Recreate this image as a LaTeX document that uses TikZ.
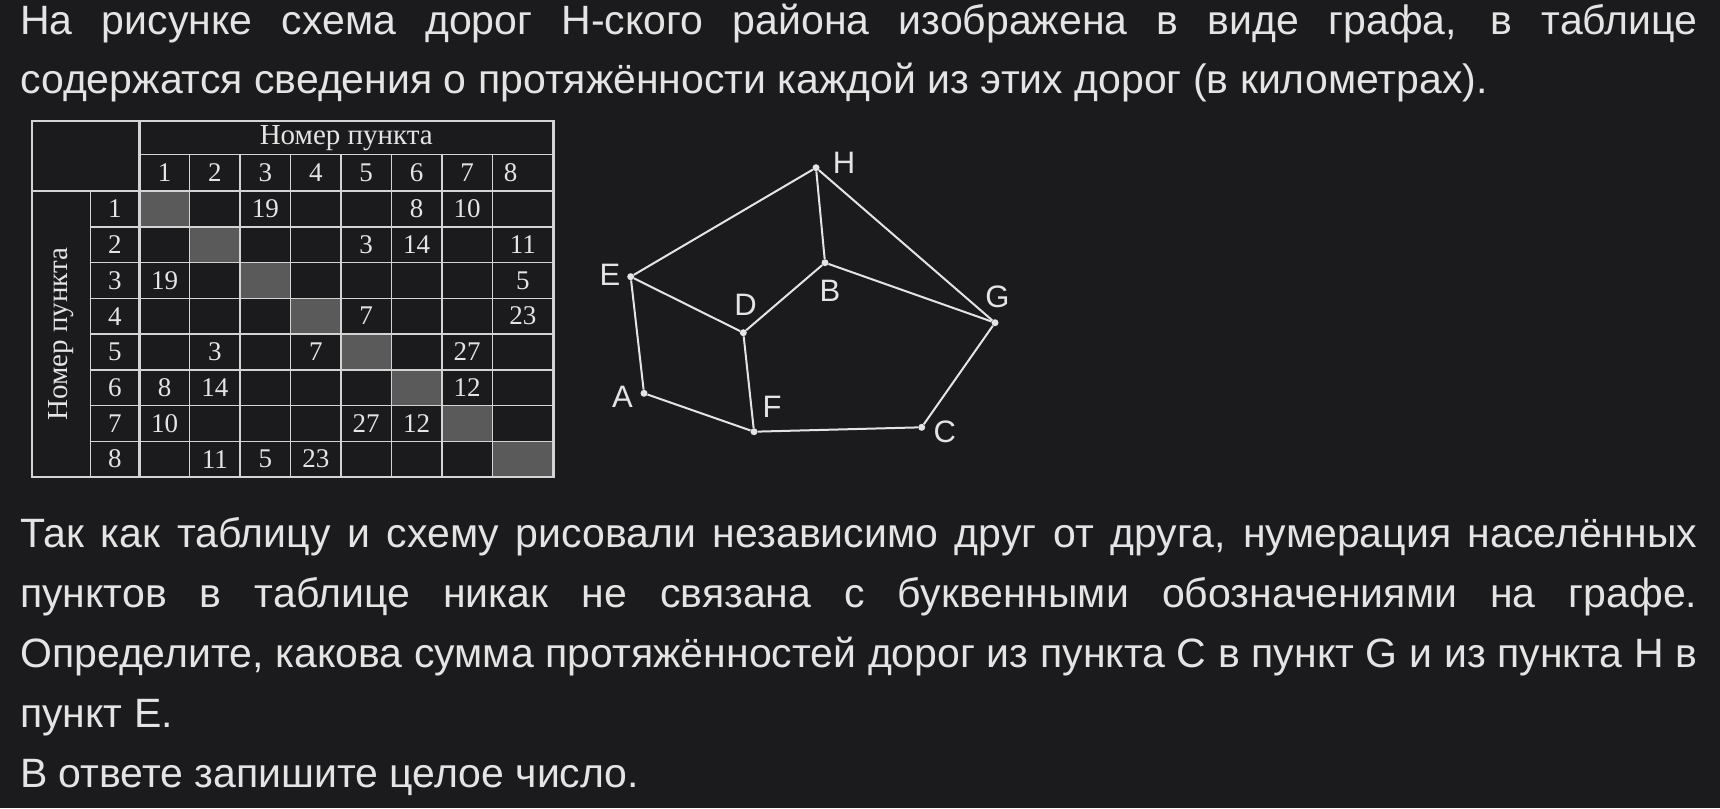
\documentclass[tikz,border=0pt]{standalone}
\usepackage{fontspec}
\setmainfont{Liberation Sans}
\newfontfamily\bodyfont{Liberation Sans}
\newfontfamily\tabfont{Liberation Serif}
\usetikzlibrary{calc, positioning}

\definecolor{bgcol}{RGB}{27,27,29}
\definecolor{inkcol}{RGB}{228,228,228}
\definecolor{gridcol}{RGB}{212,212,212}
\definecolor{diagcol}{RGB}{90,90,90}

\newcommand{\fullline}[1]{\hbox to 1677pt{#1}}

\tikzset{
  body/.style={
    anchor=base west, inner sep=0pt, text=inkcol,
    font=\bodyfont\fontsize{41}{48}\selectfont,
  },
  tabouter/.style={draw=gridcol, line width=2.4pt},
  tabthick/.style={draw=gridcol, line width=2.4pt},
  tabthin/.style={draw=gridcol, line width=1.5pt},
  diagcell/.style={fill=diagcol},
  cellnum/.style={
    inner sep=0pt, text=inkcol,
    font=\tabfont\fontsize{27}{30}\selectfont,
  },
  tabhead/.style={
    inner sep=0pt, text=inkcol,
    font=\tabfont\fontsize{29}{32}\selectfont,
  },
  vert/.style={
    circle, fill=inkcol, inner sep=0pt, minimum size=7pt,
  },
  road/.style={draw=inkcol, line width=2pt},
  vlabel/.style={
    inner sep=0pt, text=inkcol,
    font=\fontsize{31}{34}\selectfont,
  }
}

\begin{document}
\begin{tikzpicture}[x=1pt, y=-1pt]

  \fill[bgcol] (0,0) rectangle (1720,808);
  \useasboundingbox (0,0) rectangle (1720,808);

  % text above
  \node[body] (l1) at (20,35)
    {\fullline{На рисунке схема дорог Н-ского района изображена в виде графа, в таблице}};
  \node[body] (l2) at (20,93)
    {содержатся сведения о протяжённости каждой из этих дорог (в километрах).};

  % table
  \foreach \i in {1,...,8}
    \fill[diagcell] ({139.3+50.43*(\i-1)}, {191+35.75*(\i-1)}) rectangle
      ({\i<8 ? 139.3+50.43*\i : 553.3}, {191+35.75*\i});

  \draw[tabouter] (31.7,121) rectangle (553.3,477);
  \draw[tabthick] (139.3,121) -- (139.3,477);
  \draw[tabthick] (31.7,191) -- (553.3,191);
  \draw[tabthin] (139.3,154.3) -- (553.3,154.3);
  \draw[tabthin] (90.7,191) -- (90.7,477);
  \foreach \i in {1,...,7} {
    \draw[tabthin] ({139.3+50.43*\i},154.3) -- ({139.3+50.43*\i},477);
    \draw[tabthin] (90.7,{191+35.75*\i}) -- (553.3,{191+35.75*\i});
  }

  \node[tabhead] (colhead) at (346.3,137.7) {Номер пункта};
  \node[tabhead, rotate=90] (rowhead) at (61,334) {Номер пункта};

  \foreach \i in {1,...,7}
    \node[cellnum] (h\i) at ({139.3+50.43*(\i-0.5)},172.7) {\i};
  \node[cellnum] (h8) at (510.7,172.7) {8};
  \foreach \i in {1,...,8}
    \node[cellnum] (r\i) at (114.9,{191+35.75*(\i-0.5)}) {\i};

  \foreach \r/\c/\v in {1/3/19, 1/6/8, 1/7/10,
                        2/5/3, 2/6/14, 2/8/11,
                        3/1/19, 3/8/5,
                        4/5/7, 4/8/23,
                        5/2/3, 5/4/7, 5/7/27,
                        6/1/8, 6/2/14, 6/7/12,
                        7/1/10, 7/5/27, 7/6/12,
                        8/2/11, 8/3/5, 8/4/23}
    \node[cellnum] (v\r\c) at ({\c<8 ? 139.3+50.43*(\c-0.5) : 522.8},
                               {191+35.75*(\r-0.5)}) {\v};

  % graph
  \node[vert] (H) at (816,167.7) {};
  \node[vert] (E) at (630.7,276.7) {};
  \node[vert] (B) at (825,262.7) {};
  \node[vert] (D) at (743.3,332.7) {};
  \node[vert] (G) at (995,322.7) {};
  \node[vert] (A) at (644,393.3) {};
  \node[vert] (F) at (754,431.7) {};
  \node[vert] (C) at (921.7,427.3) {};

  \draw[road] (E) -- (H);
  \draw[road] (H) -- (B);
  \draw[road] (H) -- (G);
  \draw[road] (E) -- (D);
  \draw[road] (E) -- (A);
  \draw[road] (D) -- (B);
  \draw[road] (B) -- (G);
  \draw[road] (D) -- (F);
  \draw[road] (A) -- (F);
  \draw[road] (F) -- (C);
  \draw[road] (C) -- (G);

  \node[vlabel] (Hlab) at ($(H)+(28,-4.4)$) {H};
  \node[vlabel] (Elab) at ($(E)+(-20.7,-1.7)$) {E};
  \node[vlabel] (Dlab) at ($(D)+(2.2,-27.7)$) {D};
  \node[vlabel] (Blab) at ($(B)+(5,28.3)$) {B};
  \node[vlabel] (Glab) at ($(G)+(2.3,-26)$) {G};
  \node[vlabel] (Alab) at ($(A)+(-21.5,3.4)$) {A};
  \node[vlabel] (Flab) at ($(F)+(18,-25)$) {F};
  \node[vlabel] (Clab) at ($(C)+(23,4.4)$) {C};

  % text below
  \node[body] (l3) at (20,547)
    {\fullline{Так как таблицу и схему рисовали независимо друг от друга, нумерация населённых}};
  \node[body] (l4) at (20,607)
    {\fullline{пунктов в таблице никак не связана с буквенными обозначениями на графе.}};
  \node[body] (l5) at (20,667)
    {\fullline{Определите, какова сумма протяжённостей дорог из пункта C в пункт G и из пункта H в}};
  \node[body] (l6) at (20,727)
    {пункт E.};
  \node[body] (l7) at (20,787)
    {В ответе запишите целое число.};

\end{tikzpicture}
\end{document}
